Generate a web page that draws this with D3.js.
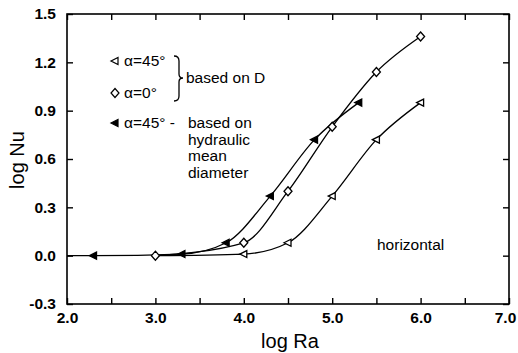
<!DOCTYPE html>
<html>
<head>
<meta charset="utf-8">
<script src="https://cdn.jsdelivr.net/npm/d3@7"></script>
<style>
  body { margin: 0; background: #fff; }
  text { font-family: "Liberation Sans", Arial, sans-serif; fill: #000; }
</style>
</head>
<body>
<div id="chart"></div>
<script>
// values (log Ra, log Nu)
var openTri = [[4.0, 0.01], [4.5, 0.08], [5.0, 0.37], [5.5, 0.72], [6.0, 0.95]];      // alpha=45, based on D
var diamonds = [[3.0, 0.0], [4.0, 0.08], [4.5, 0.40], [5.0, 0.80], [5.5, 1.14], [6.0, 1.36]]; // alpha=0
var filledTri = [[2.3, 0.0], [3.3, 0.01], [3.8, 0.08], [4.3, 0.37], [4.8, 0.72], [5.3, 0.95]]; // alpha=45, hydraulic
var baseStart = [2.0, 0.0];   // curves run flat from the axis
var branchStart = [3.0, 0.0]; // where the two upper curves leave the baseline

var xTicks = [2.0, 3.0, 4.0, 5.0, 6.0, 7.0];
var xMinor = [2.5, 3.5, 4.5, 5.5, 6.5];
var yTicks = [-0.3, 0.0, 0.3, 0.6, 0.9, 1.2, 1.5];

var W = 518, H = 353;
var margin = {top: 14, right: 9, bottom: 49, left: 67};

var x = d3.scaleLinear().domain([2.0, 7.0]).range([margin.left, W - margin.right]);
var y = d3.scaleLinear().domain([-0.3, 1.5]).range([H - margin.bottom, margin.top]);

var svg = d3.select('#chart').append('svg')
    .attr('width', W)
    .attr('height', H);

// curves
var line = d3.line()
    .x(function(d) { return x(d[0]); })
    .y(function(d) { return y(d[1]); })
    .curve(d3.curveMonotoneX);

var curves = [
    [baseStart].concat(filledTri),
    [branchStart].concat(diamonds.slice(1)),
    [branchStart].concat(openTri)
];
svg.selectAll('.curve')
    .data(curves)
    .enter().append('path')
    .attr('class', 'curve')
    .attr('d', line)
    .attr('fill', 'none')
    .attr('stroke', '#000')
    .attr('stroke-width', 1.3);

// markers
var triPath = 'M-4,0L3,-3.5L3,3.5Z';
var diaPath = 'M0,-4.5L4,0L0,4.5L-4,0Z';

function drawMarkers(data, path, fill) {
    svg.append('g').selectAll('path')
        .data(data)
        .enter().append('path')
        .attr('transform', function(d) { return 'translate(' + x(d[0]) + ',' + y(d[1]) + ')'; })
        .attr('d', path)
        .attr('fill', fill)
        .attr('stroke', '#000')
        .attr('stroke-width', 1.3);
}
drawMarkers(openTri, triPath, '#fff');
drawMarkers(diamonds, diaPath, '#fff');
drawMarkers(filledTri, triPath, '#000');

// frame
svg.append('rect')
    .attr('x', margin.left)
    .attr('y', margin.top)
    .attr('width', W - margin.left - margin.right)
    .attr('height', H - margin.top - margin.bottom)
    .attr('fill', 'none')
    .attr('stroke', '#000')
    .attr('stroke-width', 1.6);

// axes with inward ticks (plain hyphen for negatives, like the original)
var fmt = function(d) { return d3.format('.1f')(d).replace('\u2212', '-'); };
var allX = xTicks.concat(xMinor);
var xBottom = d3.axisBottom(x).tickValues(allX).tickSizeInner(-6).tickSizeOuter(0)
    .tickFormat(function(d) { return xTicks.indexOf(d) >= 0 ? fmt(d) : ''; })
    .tickPadding(8);
var xTop = d3.axisTop(x).tickValues(allX).tickSizeInner(-6).tickSizeOuter(0).tickFormat('');
var yLeft = d3.axisLeft(y).tickValues(yTicks).tickSizeInner(-6).tickSizeOuter(0)
    .tickFormat(fmt).tickPadding(11);
var yRight = d3.axisRight(y).tickValues(yTicks).tickSizeInner(-6).tickSizeOuter(0).tickFormat('');

function styleAxis(g) {
    g.select('.domain').remove();
    g.selectAll('line').attr('stroke', '#000').attr('stroke-width', 1.4);
    g.selectAll('text').attr('font-size', 15.5).attr('font-weight', 'bold')
        .attr('font-family', '"Liberation Sans", Arial, sans-serif');
}
svg.append('g').attr('transform', 'translate(0,' + (H - margin.bottom) + ')').call(xBottom).call(styleAxis)
    .selectAll('text').filter(function(d) { return d === 7.0; }).attr('dx', -4);
svg.append('g').attr('transform', 'translate(0,' + margin.top + ')').call(xTop).call(styleAxis);
svg.append('g').attr('transform', 'translate(' + margin.left + ',0)').call(yLeft).call(styleAxis);
svg.append('g').attr('transform', 'translate(' + (W - margin.right) + ',0)').call(yRight).call(styleAxis);

// axis titles
svg.append('text')
    .attr('x', 290)
    .attr('y', 348)
    .attr('text-anchor', 'middle')
    .attr('font-size', 20)
    .text('log Ra');
svg.append('text')
    .attr('transform', 'translate(24,160) rotate(-90)')
    .attr('text-anchor', 'middle')
    .attr('font-size', 20)
    .text('log Nu');

// legend
var legend = svg.append('g').attr('font-size', 15.5);
legend.append('path').attr('transform', 'translate(115,61)').attr('d', triPath)
    .attr('fill', '#fff').attr('stroke', '#000').attr('stroke-width', 1.2);
legend.append('path').attr('transform', 'translate(115,93)').attr('d', diaPath)
    .attr('fill', '#fff').attr('stroke', '#000').attr('stroke-width', 1.2);
legend.append('path').attr('transform', 'translate(115,123)').attr('d', triPath)
    .attr('fill', '#000').attr('stroke', '#000').attr('stroke-width', 1.2);

legend.append('text').attr('x', 124).attr('y', 66).text('α=45°');
legend.append('text').attr('x', 124).attr('y', 98).text('α=0°');
legend.append('text').attr('x', 124).attr('y', 128).text('α=45° -');

// brace
legend.append('path')
    .attr('d', 'M174,56 Q179,56 179,61 L179,74 Q179,78 183,78 Q179,78 179,82 L179,96 Q179,101 174,101')
    .attr('fill', 'none').attr('stroke', '#000').attr('stroke-width', 1.3);
legend.append('text').attr('x', 186).attr('y', 83).text('based on D');

['based on', 'hydraulic', 'mean', 'diameter'].forEach(function(t, i) {
    legend.append('text').attr('x', 188).attr('y', 128 + i * 16.7).text(t);
});

svg.append('text')
    .attr('x', 377).attr('y', 250)
    .attr('font-size', 15.5)
    .text('horizontal');
</script>
</body>
</html>
